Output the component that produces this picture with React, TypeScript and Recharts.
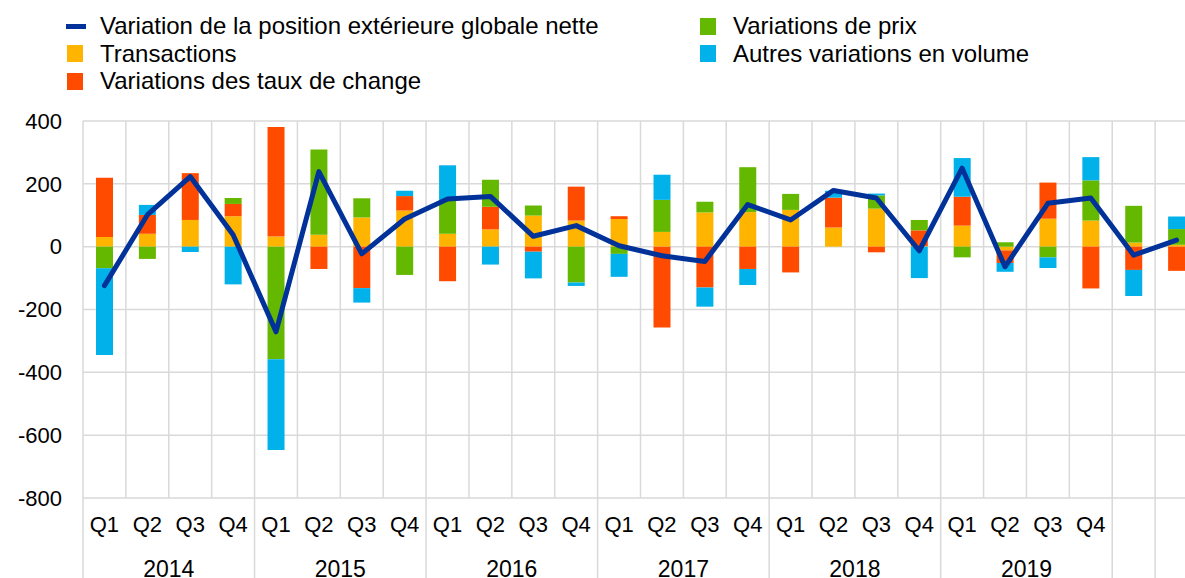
import React from 'react';
import { ComposedChart, Bar, Line, XAxis, YAxis, CartesianGrid, Legend } from 'recharts';

// ---------- data ----------
const quarterLabels = [
  'Q1', 'Q2', 'Q3', 'Q4',
  'Q1', 'Q2', 'Q3', 'Q4',
  'Q1', 'Q2', 'Q3', 'Q4',
  'Q1', 'Q2', 'Q3', 'Q4',
  'Q1', 'Q2', 'Q3', 'Q4',
  'Q1', 'Q2', 'Q3', 'Q4',
  '', '',
];
const yearLabels = [
  '2014', '2014', '2014', '2014',
  '2015', '2015', '2015', '2015',
  '2016', '2016', '2016', '2016',
  '2017', '2017', '2017', '2017',
  '2018', '2018', '2018', '2018',
  '2019', '2019', '2019', '2019',
  '', '',
];
const transactions = [31, 41, 85, 97, 32, 38, 93, 115, 41, 55, 99, 83, 88, 47, 109, 110, 117, 61, 121, 2, 67, -12, 89, 83, 13, 6];
const exchangeRate = [188, 60, 149, 39, 349, -71, -132, 46, -110, 72, -16, 108, 9, -257, -130, -71, -82, 95, -18, 50, 92, -40, 115, -133, -74, -77];
const priceChanges = [-69, -39, 0, 19, -358, 271, 61, -90, 107, 86, 32, -114, -23, 102, 34, 143, 51, 0, 42, 33, -34, 14, -34, 128, 117, 50];
const otherVolume = [-276, 32, -17, -120, -289, 0, -46, 17, 111, -57, -85, -11, -73, 80, -61, -51, 0, 22, 6, -100, 123, -28, -34, 74, -83, 40];
const netChange = [-124, 101, 223, 38, -271, 239, -23, 88, 152, 160, 33, 67, 3, -29, -47, 134, 85, 179, 155, -13, 250, -64, 138, 155, -27, 21];
const yTicks = [-800, -600, -400, -200, 0, 200, 400];

const NAME_LINE = 'Variation de la position extérieure globale nette';
const NAME_TR = 'Transactions';
const NAME_FX = 'Variations des taux de change';
const NAME_PR = 'Variations de prix';
const NAME_OV = 'Autres variations en volume';

const NAVY = '#003299';
const YELLOW = '#FFB400';
const ORANGE = '#FF4B00';
const GREEN = '#65B800';
const CYAN = '#00B1EA';
const GRID = '#D9D9D9';
const FONT = '"Liberation Sans", Arial, sans-serif';

const data = quarterLabels.map((q, i) => ({
  key: `${yearLabels[i] || 'x'}-${q || i}`,
  tr: transactions[i],
  fx: exchangeRate[i],
  pr: priceChanges[i],
  ov: otherVolume[i],
  net: netChange[i],
}));

const legendItems = [
  { name: NAME_LINE, color: NAVY, kind: 'line', col: 0, row: 0 },
  { name: NAME_TR, color: YELLOW, kind: 'rect', col: 0, row: 1 },
  { name: NAME_FX, color: ORANGE, kind: 'rect', col: 0, row: 2 },
  { name: NAME_PR, color: GREEN, kind: 'rect', col: 1, row: 0 },
  { name: NAME_OV, color: CYAN, kind: 'rect', col: 1, row: 1 },
];

const LegendContent = () => (
  <div style={{ position: 'relative', width: 1185, height: 0, fontFamily: FONT }}>
    {legendItems.map((it) => {
      const colX = it.col === 0 ? 100 : 733;
      const top = 12 + it.row * 27.5;
      return (
        <div key={it.name} style={{ position: 'absolute', left: colX - 34, top, height: 28, display: 'flex', alignItems: 'center', whiteSpace: 'nowrap' }}>
          <div style={{ width: 34, display: 'flex', alignItems: 'center' }}>
            {it.kind === 'line' ? (
              <div style={{ width: 20, height: 5, background: it.color }} />
            ) : (
              <div style={{ width: 16, height: 17, marginLeft: 1, background: it.color }} />
            )}
          </div>
          <span style={{ fontSize: 24, lineHeight: '28px', color: '#000' }}>{it.name}</span>
        </div>
      );
    })}
  </div>
);

const XTick = (props: any) => {
  const { x, y, payload, width, visibleTicksCount } = props;
  const i = typeof payload?.index === 'number' ? payload.index : props.index;
  const n = visibleTicksCount || quarterLabels.length;
  const band = width && width > 200 ? width / n : 42.9;
  const left = x - band / 2;
  const yr = yearLabels[i];
  const groupStart = i === 0 || yr === '' || yearLabels[i - 1] !== yr;
  const groupSize = yr === '' ? 1 : yearLabels.filter((v) => v === yr).length;
  return (
    <g>
      {groupStart && <line x1={left} x2={left} y1={y} y2={y + 100} stroke={GRID} strokeWidth={1.5} />}
      <text x={x} y={y + 26} textAnchor="middle" dominantBaseline="central" fontSize={22} fontFamily={FONT} fill="#000">
        {quarterLabels[i]}
      </text>
      {groupStart && yr && (
        <text x={left + (groupSize * band) / 2} y={y + 71} textAnchor="middle" dominantBaseline="central" fontSize={23} fontFamily={FONT} fill="#000">
          {yr}
        </text>
      )}
    </g>
  );
};

export default function App() {
  const N = quarterLabels.length;
  return (
    <div style={{ position: 'absolute', left: 0, top: 0, width: 1185, height: 578, overflow: 'hidden', background: '#fff' }}>
      <ComposedChart
        width={1198}
        height={600}
        data={data}
        stackOffset="sign"
        margin={{ top: 121, right: 0, left: 0, bottom: 22 }}
      >
        <CartesianGrid
          stroke={GRID}
          strokeWidth={1.5}
          verticalCoordinatesGenerator={({ offset }: any) =>
            Array.from({ length: N + 1 }, (_, k) => offset.left + (k * offset.width) / N)
          }
        />
        <XAxis
          dataKey="key"
          interval={0}
          axisLine={false}
          tickLine={false}
          tickSize={0}
          tickMargin={0}
          height={80}
          tick={<XTick />}
        />
        <YAxis
          domain={[-800, 400]}
          ticks={yTicks}
          width={83}
          axisLine={false}
          tickLine={false}
          tickSize={0}
          tickMargin={21}
          interval={0}
          tick={{ fontSize: 22, fill: '#000', fontFamily: FONT }}
        />
        <Legend
          verticalAlign="top"
          align="left"
          content={() => <LegendContent />}
          wrapperStyle={{ top: 0, left: 0, height: 0, width: 1185 }}
        />
        <Bar dataKey="tr" name={NAME_TR} stackId="s" fill={YELLOW} barSize={17} isAnimationActive={false} />
        <Bar dataKey="fx" name={NAME_FX} stackId="s" fill={ORANGE} barSize={17} isAnimationActive={false} />
        <Bar dataKey="pr" name={NAME_PR} stackId="s" fill={GREEN} barSize={17} isAnimationActive={false} />
        <Bar dataKey="ov" name={NAME_OV} stackId="s" fill={CYAN} barSize={17} isAnimationActive={false} />
        <Line
          type="linear"
          dataKey="net"
          name={NAME_LINE}
          stroke={NAVY}
          strokeWidth={5}
          strokeLinejoin="round"
          strokeLinecap="round"
          dot={false}
          activeDot={false}
          isAnimationActive={false}
        />
      </ComposedChart>
    </div>
  );
}
